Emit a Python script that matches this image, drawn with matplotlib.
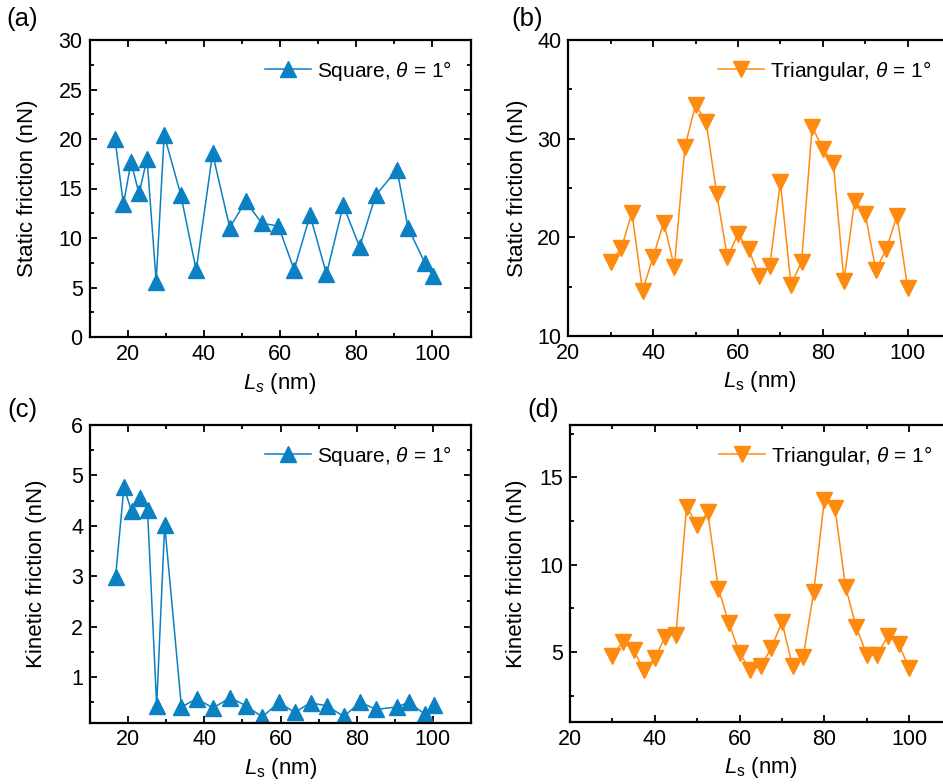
import matplotlib.pyplot as plt
from matplotlib.ticker import MultipleLocator

plt.rcParams['font.family'] = ['Liberation Sans', 'DejaVu Sans']
plt.rcParams['mathtext.fontset'] = 'custom'
plt.rcParams['mathtext.it'] = 'Liberation Sans:italic'
plt.rcParams['mathtext.rm'] = 'Liberation Sans'

# square lattice, theta = 1 deg
ls_square = [16.7, 18.9, 20.9, 23.0, 25.1, 27.5, 29.6, 34.0, 38.0, 42.3, 46.8, 51.0,
             55.2, 59.6, 63.7, 67.9, 72.2, 76.6, 80.9, 85.1, 90.7, 93.6, 98.0, 100.2]
static_square = [20.0, 13.4, 17.65, 14.5, 18.0, 5.6, 20.4, 14.3, 6.75, 18.55, 11.05, 13.7,
                 11.5, 11.2, 6.8, 12.3, 6.35, 13.3, 9.1, 14.3, 16.9, 11.05, 7.5, 6.15]
kinetic_square = [2.98, 4.77, 4.29, 4.56, 4.31, 0.43, 4.02, 0.41, 0.57, 0.39, 0.59, 0.43,
                  0.21, 0.50, 0.30, 0.49, 0.43, 0.22, 0.50, 0.36, 0.41, 0.50, 0.26, 0.45]

# triangular lattice, theta = 1 deg
ls_tri = [30, 32.5, 35, 37.5, 40, 42.5, 45, 47.5, 50, 52.5, 55, 57.5, 60, 62.5, 65,
          67.5, 70, 72.5, 75, 77.5, 80, 82.5, 85, 87.5, 90, 92.5, 95, 97.5, 100]
static_tri = [17.5, 18.9, 22.5, 14.6, 18.0, 21.5, 17.0, 29.2, 33.4, 31.7, 24.4, 18.0, 20.3,
              18.8, 16.1, 17.1, 25.6, 15.2, 17.5, 31.2, 29.0, 27.5, 15.6, 23.7, 22.4, 16.7,
              18.8, 22.2, 14.9]
kinetic_tri = [4.8, 5.6, 5.13, 3.95, 4.66, 5.89, 5.99, 13.33, 12.25, 13.0, 8.64, 6.65, 4.94,
               3.99, 4.18, 5.23, 6.74, 4.18, 4.71, 8.45, 13.71, 13.26, 8.74, 6.46, 4.85, 4.85,
               5.93, 5.47, 4.09]

blue = '#0b80c3'
orange = '#ff8a10'

fig = plt.figure(figsize=(9.43, 7.84), dpi=100)
W, H = 943.0, 784.0


def make_ax(left, top, right, bottom):
    return fig.add_axes([left / W, 1 - bottom / H, (right - left) / W, (bottom - top) / H])


ax_a = make_ax(89.5, 40, 470.5, 337)
ax_b = make_ax(568.3, 40, 950.0, 336)
ax_c = make_ax(90, 425, 471, 722.5)
ax_d = make_ax(570, 425, 951.5, 722)


def style(ax, xlim, ylim, ymaj, ymin, ylabel, xlabel, ylab_x):
    ax.set_xlim(*xlim)
    ax.set_ylim(*ylim)
    ax.xaxis.set_major_locator(MultipleLocator(20))
    ax.xaxis.set_minor_locator(MultipleLocator(10))
    ax.yaxis.set_major_locator(MultipleLocator(ymaj))
    ax.yaxis.set_minor_locator(MultipleLocator(ymin))
    ax.tick_params(which='both', direction='in', top=True, right=True, width=1.3,
                   labelsize=15.5, pad=5)
    ax.tick_params(which='major', length=5)
    ax.tick_params(which='minor', length=3)
    for s in ax.spines.values():
        s.set_linewidth(1.6)
    ax.set_ylabel(ylabel, fontsize=16)
    ax.yaxis.set_label_coords(ylab_x, 0.5)
    ax.set_xlabel(xlabel, fontsize=16, labelpad=4)
    ax.legend(loc='upper right', frameon=False, fontsize=15, handlelength=2.2,
              handletextpad=0.3, borderaxespad=0.5)


ax_a.plot(ls_square, static_square, '-^', color=blue, ms=11.5, lw=1.1,
          label=r'Square, $\theta$ = 1°')
style(ax_a, (10, 110), (0, 30), 5, 2.5, 'Static friction (nN)', r'$L_s$ (nm)', -0.135)

ax_b.plot(ls_tri, static_tri, '-v', color=orange, ms=11.5, lw=1.1,
          label=r'Triangular, $\theta$ = 1°')
style(ax_b, (20, 110), (10, 40), 10, 5, 'Static friction (nN)', r'$L_\mathrm{s}$ (nm)', -0.106)

ax_c.plot(ls_square, kinetic_square, '-^', color=blue, ms=11.5, lw=1.1,
          label=r'Square, $\theta$ = 1°')
style(ax_c, (10, 110), (0.1, 6), 1, 0.5, 'Kinetic friction (nN)', r'$L_\mathrm{s}$ (nm)', -0.113)

ax_d.plot(ls_tri, kinetic_tri, '-v', color=orange, ms=11.5, lw=1.1,
          label=r'Triangular, $\theta$ = 1°')
style(ax_d, (20, 110), (1, 18), 5, 2.5, 'Kinetic friction (nN)', r'$L_\mathrm{s}$ (nm)', -0.113)

fig.text(22 / W, 1 - 19 / H, '(a)', fontsize=18.5, ha='center', va='center')
fig.text(527 / W, 1 - 19 / H, '(b)', fontsize=18.5, ha='center', va='center')
fig.text(22 / W, 1 - 410 / H, '(c)', fontsize=18.5, ha='center', va='center')
fig.text(543 / W, 1 - 410 / H, '(d)', fontsize=18.5, ha='center', va='center')

fig.savefig('out.png', dpi=100)
